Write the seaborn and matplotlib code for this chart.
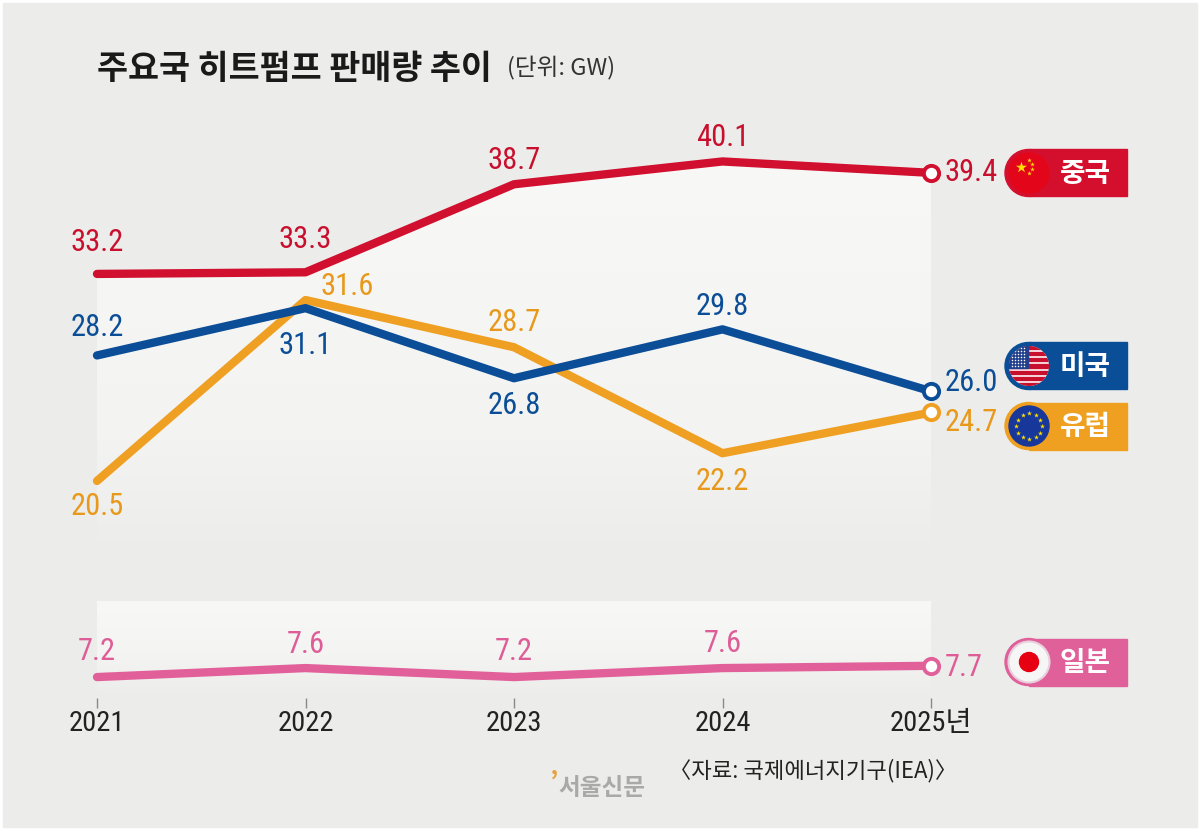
import numpy as np
import pandas as pd
import matplotlib
matplotlib.use("Agg")
import matplotlib.pyplot as plt
import seaborn as sns
from matplotlib.patches import Circle, Rectangle, Polygon
from matplotlib.colors import LinearSegmentedColormap

# ---------------------------------------------------------
# data
# ---------------------------------------------------------
years = [2021, 2022, 2023, 2024, 2025]
year_labels = ["2021", "2022", "2023", "2024", "2025년"]
china = [33.2, 33.3, 38.7, 40.1, 39.4]
usa = [28.2, 31.1, 26.8, 29.8, 26.0]
europe = [20.5, 31.6, 28.7, 22.2, 24.7]
japan = [7.2, 7.6, 7.2, 7.6, 7.7]
countries = ["중국", "미국", "유럽", "일본"]

title = "주요국 히트펌프 판매량 추이"
unit = "(단위: GW)"
source = "〈자료: 국제에너지기구(IEA)〉"
brand = "서울신문"

df = pd.DataFrame({
    "year": years * 4,
    "value": china + usa + europe + japan,
    "country": [c for c in countries for _ in years],
})

line_colors = {"중국": "#d10f2f", "미국": "#0b4e97", "유럽": "#efa023", "일본": "#e2609a"}
text_colors = {"중국": "#c8102e", "미국": "#0b4e97", "유럽": "#e8991c", "일본": "#df5d97"}
badge_colors = {"중국": "#d40f2e", "미국": "#0a4e98", "유럽": "#f0a020", "일본": "#e0609a"}
bg = "#ecedeb"

# label offsets in pixels (dx, dy up); last point is written to the right
offsets = {
    "중국": [(0, 31), (0, 33), (0, 24), (0, 24), (14, 0)],
    "미국": [(0, 28), (0, -37), (0, -27), (0, 23), (14, 9)],
    "유럽": [(0, -26), (42, 14), (0, 25), (0, -28), (14, -10)],
    "일본": [(0, 26), (0, 24), (0, 26), (0, 25), (14, -2)],
}

sns.set_theme(style="white")
plt.rcParams["font.family"] = ["Noto Sans CJK KR", "DejaVu Sans"]
num_font = ["Roboto Condensed", "Noto Sans CJK KR", "DejaVu Sans"]

W, H = 1200, 830
fig = plt.figure(figsize=(W / 100, H / 100), dpi=100, facecolor="white")


def px_axes(x0, y0, x1, y1, z=1):
    a = fig.add_axes([x0 / W, 1 - y1 / H, (x1 - x0) / W, (y1 - y0) / H], zorder=z)
    a.set_facecolor("none")
    return a


# overlay in pixel coordinates for background and badges
ov = fig.add_axes([0, 0, 1, 1], zorder=0)
ov.set_xlim(0, W)
ov.set_ylim(H, 0)
ov.axis("off")
ov.add_patch(Rectangle((3, 3), W - 6, H - 6, color=bg, zorder=0))

ax = px_axes(97, 100, 931, 560)
axj = px_axes(97, 601, 931, 698)

top_lim = (15.65, 43.87)
jap_lim = (6.27, 10.58)

# gradient under the China line
cmap_top = LinearSegmentedColormap.from_list("gt", [(0, bg), (0.3, "#f3f3f2"), (1, "#f8f8f7")])
grad = np.linspace(1, 0, 256).reshape(-1, 1)
im = ax.imshow(grad, extent=[years[0], years[-1], top_lim[0], max(china)],
               aspect="auto", cmap=cmap_top, zorder=0, interpolation="bilinear")
verts = [(years[0], top_lim[0])] + list(zip(years, china)) + [(years[-1], top_lim[0])]
clip = Polygon(verts, closed=True, facecolor="none", edgecolor="none", transform=ax.transData)
ax.add_patch(clip)
im.set_clip_path(clip)

cmap_j = LinearSegmentedColormap.from_list("gj", [(0, bg), (0.45, "#f4f4f3"), (1, "#f8f8f7")])
axj.imshow(grad, extent=[years[0], years[-1], jap_lim[0], jap_lim[1]],
           aspect="auto", cmap=cmap_j, zorder=0, interpolation="bilinear")

# lines
top_df = df[df["country"] != "일본"]
sns.lineplot(data=top_df, x="year", y="value", hue="country",
             hue_order=["유럽", "미국", "중국"], palette=line_colors,
             linewidth=6, legend=False, ax=ax, sort=False,
             solid_capstyle="round", solid_joinstyle="round")
sns.lineplot(data=df[df["country"] == "일본"], x="year", y="value", hue="country",
             palette=line_colors, linewidth=6, legend=False, ax=axj, sort=False,
             solid_capstyle="round", solid_joinstyle="round")
for a in (ax, axj):
    for ln in a.lines:
        ln.set_clip_on(False)

series = {"중국": china, "미국": usa, "유럽": europe, "일본": japan}
for c, vals in series.items():
    a = axj if c == "일본" else ax
    a.plot([years[-1]], [vals[-1]], "o", ms=11, mfc="white", mec=line_colors[c],
           mew=2.8, clip_on=False, zorder=5)
    for i, (yr, v) in enumerate(zip(years, vals)):
        dx, dy = offsets[c][i]
        ha = "left" if i == len(years) - 1 else "center"
        a.annotate(f"{v:.1f}", (yr, v), xytext=(dx * 0.72, dy * 0.72),
                   textcoords="offset points", ha=ha, va="center",
                   fontsize=22, color=text_colors[c], family=num_font,
                   annotation_clip=False, zorder=6)

for a, lim in ((ax, top_lim), (axj, jap_lim)):
    a.set_xlim(years[0], years[-1])
    a.set_ylim(*lim)
    a.set_xlabel("")
    a.set_ylabel("")
    sns.despine(ax=a, left=True, bottom=True)
    a.set_yticks([])

ax.set_xticks([])
axj.set_xticks(years)
axj.set_xticklabels(year_labels, family=num_font, fontsize=20.5, color="#222222")
axj.tick_params(axis="x", bottom=True, length=7.5, width=1, color="#8a8a8a", pad=1)

# title, unit, source
ov.text(97, 69, title, fontsize=24.3, fontweight="bold", color="#1a1a1a", va="center", ha="left")
ov.text(507, 68, unit, fontsize=17, color="#333333", va="center", ha="left")
ov.text(957, 771, source, fontsize=16, color="#222222", va="center", ha="right")
ov.text(550, 783, "\u2019", fontsize=19, color="#e8a040", va="center", ha="left", fontweight="bold")
ov.text(558, 788, brand, fontsize=17, color="#a9a9a9", va="center", ha="left", fontweight="bold")


# badges
def badge(cy, c):
    h = 47
    r = h / 2
    x0, x1 = 1005, 1127
    col = badge_colors[c]
    ov.add_patch(Circle((x0 + r, cy), r, color=col, zorder=2))
    ov.add_patch(Rectangle((x0 + r, cy - r), x1 - x0 - r, h, color=col, zorder=2))
    ov.text(1085, cy + 1, c, color="white", ha="center", va="center",
            fontsize=20, fontweight="bold", zorder=4)
    return (x0 + r + 0.5, cy)


fc = badge(173, "중국")
ov.add_patch(Circle(fc, 20, color="#e3061b", zorder=3))
ov.scatter([fc[0] - 8], [fc[1] - 6], marker="*", s=70, color="#ffde00", zorder=4, linewidths=0)
ov.scatter([fc[0] + 0, fc[0] + 3, fc[0] + 3, fc[0]], [fc[1] - 13, fc[1] - 9, fc[1] - 4, fc[1]],
           marker="*", s=12, color="#ffde00", zorder=4, linewidths=0)

uc = badge(366, "미국")
uc_circle = Circle(uc, 20, facecolor="white", edgecolor="none", zorder=3)
ov.add_patch(uc_circle)
stripe_h = 40 / 13
for k in range(13):
    if k % 2 == 0:
        st = Rectangle((uc[0] - 20, uc[1] - 20 + k * stripe_h), 40, stripe_h,
                       color="#c8102e", zorder=3.1)
        ov.add_patch(st)
        st.set_clip_path(uc_circle)
canton = Rectangle((uc[0] - 20, uc[1] - 20), 19, 7 * stripe_h, color="#23408e", zorder=3.2)
ov.add_patch(canton)
canton.set_clip_path(uc_circle)
gx, gy = np.meshgrid(np.arange(uc[0] - 17, uc[0] - 2, 3), np.arange(uc[1] - 18, uc[1] + 1, 3))
pts = ov.scatter(gx.ravel(), gy.ravel(), s=1.2, color="white", zorder=3.3, linewidths=0)
pts.set_clip_path(uc_circle)

ec = badge(426, "유럽")
ov.add_patch(Circle(ec, 20, color="#17379a", zorder=3))
ang = np.linspace(0, 2 * np.pi, 13)[:-1]
ov.scatter(ec[0] + 13 * np.cos(ang), ec[1] + 13 * np.sin(ang), marker="*", s=14,
           color="#ffdd00", zorder=4, linewidths=0)

jc = badge(662, "일본")
ov.add_patch(Circle(jc, 20.5, facecolor="#f6f6f6", edgecolor="#e8d0dc", lw=1.5, zorder=3))
ov.add_patch(Circle(jc, 9.5, color="#e60012", zorder=4))

fig.savefig("out.png", dpi=100, facecolor=fig.get_facecolor())
